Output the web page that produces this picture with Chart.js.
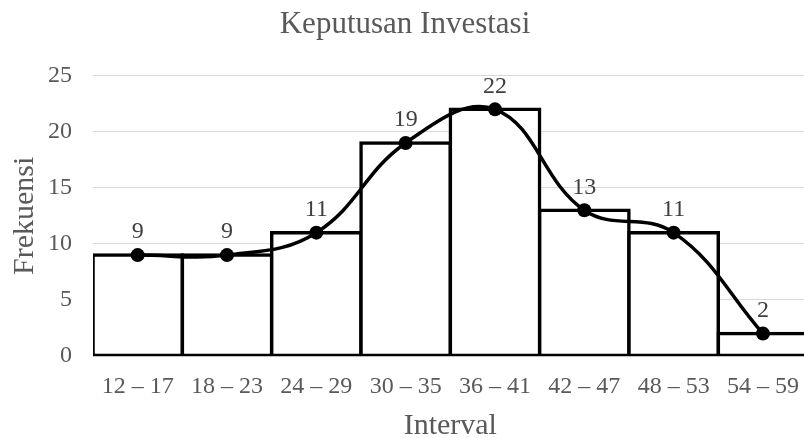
<!DOCTYPE html>
<html>
<head>
<meta charset="utf-8">
<script src="https://cdn.jsdelivr.net/npm/chart.js@4/dist/chart.umd.min.js"></script>
<style>
  html, body { margin: 0; padding: 0; background: #ffffff; overflow: hidden; width: 804px; height: 438px; }
  #wrap { width: 804px; height: 438px; overflow: hidden; position: relative; }
  canvas { display: block; }
</style>
</head>
<body>
<div id="wrap"><canvas id="c" width="816" height="438"></canvas></div>
<script>
const categories = ["12 – 17", "18 – 23", "24 – 29", "30 – 35", "36 – 41", "42 – 47", "48 – 53", "54 – 59"];
const frequencies = [9, 9, 11, 19, 22, 13, 11, 2];
const yTicks = [0, 5, 10, 15, 20, 25];
const chartTitle = "Keputusan Investasi";
const xTitle = "Interval";
const yTitle = "Frekuensi";

const FONT = '"Liberation Serif", "Times New Roman", serif';

const dataLabels = {
  id: 'dataLabels',
  afterDatasetsDraw(chart) {
    const meta = chart.getDatasetMeta(0);
    const ctx = chart.ctx;
    ctx.save();
    ctx.font = '24px ' + FONT;
    ctx.fillStyle = '#404040';
    ctx.textAlign = 'center';
    ctx.textBaseline = 'middle';
    meta.data.forEach((pt, i) => {
      ctx.fillText(String(frequencies[i]), pt.x, pt.y - 23);
    });
    ctx.restore();
  }
};

new Chart(document.getElementById('c'), {
  data: {
    labels: categories,
    datasets: [
      {
        type: 'line',
        data: frequencies,
        borderColor: '#000000',
        borderWidth: 3.5,
        tension: 0.4,
        fill: false,
        pointRadius: 7,
        pointBackgroundColor: '#000000',
        pointBorderColor: '#000000',
        pointBorderWidth: 0,
        order: 0
      },
      {
        type: 'bar',
        data: frequencies,
        backgroundColor: '#ffffff',
        borderColor: '#000000',
        borderWidth: 3.5,
        borderSkipped: false,
        inflateAmount: 1.75,
        categoryPercentage: 1.0,
        barPercentage: 1.0,
        order: 1
      }
    ]
  },
  options: {
    responsive: false,
    animation: false,
    devicePixelRatio: 1,
    layout: { padding: { left: 0, right: 6, top: 0, bottom: 0 } },
    plugins: {
      legend: { display: false },
      tooltip: { enabled: false },
      title: {
        display: true,
        text: chartTitle,
        color: '#595959',
        font: { family: FONT, size: 31, weight: 'normal', lineHeight: 1.2 },
        padding: { top: 6, bottom: 32.5 }
      }
    },
    scales: {
      x: {
        type: 'category',
        offset: true,
        grid: { display: false, drawTicks: false },
        border: { display: true, color: '#bfbfbf', width: 1 },
        ticks: { color: '#595959', font: { family: FONT, size: 24, lineHeight: 1.2 }, padding: 16.6, maxRotation: 0, autoSkip: false },
        title: { display: true, text: xTitle, color: '#595959', font: { family: FONT, size: 30, lineHeight: 0.8 }, padding: 0 },
        afterFit(scale) { scale.height = 82; }
      },
      y: {
        min: 0,
        max: 25,
        afterBuildTicks(scale) { scale.ticks = yTicks.map(v => ({ value: v })); },
        grid: { color: '#d9d9d9', lineWidth: 1, drawTicks: false },
        border: { display: false },
        ticks: { color: '#595959', font: { family: FONT, size: 24 }, padding: 21 },
        title: { display: true, text: yTitle, color: '#595959', font: { family: FONT, size: 30, lineHeight: 1.2 }, padding: { top: 7, bottom: 0 } },
        afterFit(scale) { scale.width = 93; }
      }
    }
  },
  plugins: [dataLabels]
});
</script>
</body>
</html>
